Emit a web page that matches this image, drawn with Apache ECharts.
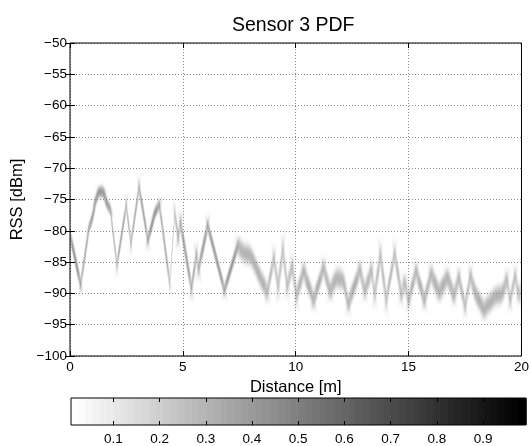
<!DOCTYPE html>
<html>
<head>
<meta charset="utf-8">
<script src="https://cdn.jsdelivr.net/npm/echarts@6/dist/echarts.min.js"></script>
<style>html,body{margin:0;padding:0;background:#fff}#c{width:532px;height:446px}</style>
</head>
<body>
<div id="c"></div>
<script>
// Mean RSS of the PDF band (ridge of the density)
const distance = [0.0,0.47,0.84,0.98,1.15,1.3,1.5,1.62,1.79,2.08,2.49,2.7,3.06,3.45,3.76,3.95,4.06,4.42,4.64,4.79,4.9,5.38,5.6,5.7,6.1,6.84,7.42,7.7,8.0,8.2,8.45,8.74,9.03,9.22,9.43,9.62,9.84,10.03,10.35,10.79,11.23,11.52,11.81,12.1,12.33,12.84,13.06,13.35,13.5,13.75,14.01,14.38,14.67,14.83,15.0,15.33,15.7,15.99,16.35,16.72,17.01,17.23,17.5,17.74,17.96,18.33,18.6,18.84,19.13,19.35,19.5,19.72,19.87,20.0];
const rss = [-80.5,-88.6,-79.6,-78.0,-75.0,-73.8,-74.0,-75.5,-76.7,-85.5,-75.9,-82.0,-73.0,-81.5,-77.2,-75.9,-78.5,-88.4,-77.2,-81.0,-78.8,-89.2,-83.9,-86.0,-79.1,-89.5,-82.5,-83.5,-84.0,-85.5,-87.6,-89.7,-84.4,-88.8,-83.0,-88.8,-85.7,-90.3,-86.5,-91.0,-86.0,-89.5,-87.6,-88.0,-91.6,-86.3,-89.5,-86.5,-90.0,-83.9,-91.0,-83.6,-90.0,-88.5,-91.0,-86.5,-91.0,-87.0,-89.7,-87.6,-90.2,-87.6,-92.0,-87.3,-90.0,-92.5,-91.5,-90.5,-90.0,-88.0,-91.0,-87.3,-90.0,-89.5];
// Visible half-height of the band (dB) and peak density, by distance zone
const zoneStart = [0, 4.0, 7.42];
const zoneSpread = [1.6, 1.9, 2.6];
const zonePeak = [0.5, 0.45, 0.32];
const xTicks = [0,5,10,15,20];
const yTicks = [-100,-95,-90,-85,-80,-75,-70,-65,-60,-55,-50];
const cbTicks = [0.1,0.2,0.3,0.4,0.5,0.6,0.7,0.8,0.9];
const cbMin = 0.0083, cbMax = 0.993, cbLevels = 64;

const FONT = 'Liberation Sans, Arial, Helvetica, sans-serif';
// cross-section profile of the band (style)
const bandProfile = [[0,0],[0.1,0.08],[0.2,0.3],[0.3,0.65],[0.4,0.92],[0.5,1],[0.6,0.92],[0.7,0.65],[0.8,0.3],[0.9,0.08],[1,0]];
const BLUR = 4, OFF = 2000, MIN_PERP = 3.0, MAX_STRETCH = 1.35; // soft 2-D blur: only the shadow of each piece is painted in place
const fmtNeg = v => (v < 0 ? '\u2212' + Math.abs(v) : String(v));
const grayOf = v => Math.round(255*(1 - v));

function zoneOf(x){ let z = 0; for (let k = 0; k < zoneStart.length; k++) if (x >= zoneStart[k]) z = k; return z; }

const segData = [];
for (let i = 0; i < distance.length - 1; i++) {
  const z = zoneOf(distance[i]);
  segData.push([distance[i], rss[i], distance[i+1], rss[i+1], zoneSpread[z], zonePeak[z]]);
}

const cbData = [];
for (let i = 0; i < cbLevels; i++) {
  const lo = cbMin + i*(cbMax-cbMin)/cbLevels, hi = cbMin + (i+1)*(cbMax-cbMin)/cbLevels;
  cbData.push([lo, hi, i/(cbLevels-1)]);
}

const gridLine = {show:true, lineStyle:{color:'#8a8a8a', width:1, type:[1,2]}};

const chart = echarts.init(document.getElementById('c'), null, {renderer:'canvas'});
chart.setOption({
  animation:false,
  backgroundColor:'#fff',
  title:{text:'Sensor 3 PDF', left:227, top:11, textStyle:{fontFamily:FONT, fontSize:19.5, fontWeight:'normal', color:'#000'}},
  grid:[
    {left:70, right:6, top:43, bottom:90, show:true, borderColor:'#000', borderWidth:1, backgroundColor:'transparent', z:1},
    {left:71, right:6, top:398, height:30, show:true, borderColor:'#000', borderWidth:1, backgroundColor:'transparent', z:1}
  ],
  xAxis:[
    {gridIndex:0, type:'value', min:0, max:20, interval:5, name:'Distance [m]', nameLocation:'middle', nameGap:17,
     nameTextStyle:{fontFamily:FONT, fontSize:16.5, color:'#000'},
     axisLine:{show:false}, axisTick:{show:true, inside:true, length:5, lineStyle:{color:'#000'}},
     axisLabel:{fontFamily:FONT, fontSize:13.5, color:'#000', margin:4}, splitLine:gridLine},
    {gridIndex:0, type:'value', min:0, max:20, interval:5, position:'top',
     axisLine:{show:false}, axisTick:{show:true, inside:true, length:5, lineStyle:{color:'#000'}},
     axisLabel:{show:false}, splitLine:{show:false}},
    {gridIndex:1, type:'value', min:cbMin, max:cbMax,
     axisLine:{show:false}, axisTick:{show:true, inside:true, length:4, customValues:cbTicks, lineStyle:{color:'#000'}},
     axisLabel:{fontFamily:FONT, fontSize:13.5, color:'#000', margin:7, customValues:cbTicks, formatter:v=>v.toFixed(1)},
     splitLine:{show:false}},
    {gridIndex:1, type:'value', min:cbMin, max:cbMax, position:'top',
     axisLine:{show:false}, axisTick:{show:true, inside:true, length:4, customValues:cbTicks, lineStyle:{color:'#000'}},
     axisLabel:{show:false}, splitLine:{show:false}}
  ],
  yAxis:[
    {gridIndex:0, type:'value', min:-100, max:-50, interval:5, name:'RSS [dBm]', nameLocation:'middle', nameGap:38,
     nameTextStyle:{fontFamily:FONT, fontSize:16.5, color:'#000'},
     axisLine:{show:false}, axisTick:{show:true, inside:true, length:5, lineStyle:{color:'#000'}},
     axisLabel:{fontFamily:FONT, fontSize:13.5, color:'#000', margin:3, formatter:fmtNeg}, splitLine:gridLine},
    {gridIndex:0, type:'value', min:-100, max:-50, interval:5, position:'right',
     axisLine:{show:false}, axisTick:{show:true, inside:true, length:5, lineStyle:{color:'#000'}},
     axisLabel:{show:false}, splitLine:{show:false}},
    {gridIndex:1, type:'value', min:0, max:1, show:false}
  ],
  series:[
    {type:'custom', xAxisIndex:0, yAxisIndex:0, data:segData, silent:true, z:-1, clip:true,
     encode:{x:[0,2], y:[1,3]},
     renderItem:(params, api)=>{
       const p0 = api.coord([api.value(0), api.value(1)]);
       const p1 = api.coord([api.value(2), api.value(3)]);
       const hv = Math.abs(api.coord([api.value(0), api.value(1) + api.value(4)])[1] - p0[1]);
       const peak = api.value(5);
       const s = (p1[1] - p0[1]) / (p1[0] - p0[0]);
       const L = Math.sqrt(1 + s*s);
       const hpx = Math.min(Math.max(hv, MIN_PERP * L), MAX_STRETCH * hv);
       const d = hpx / L;
       const n = [-s/L, 1/L];
       const m = [(p0[0]+p1[0])/2 - OFF, (p0[1]+p1[1])/2];
       const stops = bandProfile.map(([o,w]) => ({offset:o, color:'rgba(0,0,0,'+(peak*w).toFixed(4)+')'}));
       const a = p0[0] - OFF, b = p1[0] - OFF;
       return {type:'polygon',
         shape:{points:[[a, p0[1]-hpx],[b, p1[1]-hpx],[b, p1[1]+hpx],[a, p0[1]+hpx]]},
         style:{fill:{type:'linear', x:m[0]-n[0]*d, y:m[1]-n[1]*d, x2:m[0]+n[0]*d, y2:m[1]+n[1]*d, global:true, colorStops:stops},
                shadowBlur:BLUR, shadowColor:'rgba(0,0,0,1)', shadowOffsetX:OFF, shadowOffsetY:0}};
     }},
    {type:'custom', xAxisIndex:2, yAxisIndex:2, data:cbData, silent:true, z:-1,
     encode:{x:[0,1]},
     renderItem:(params, api)=>{
       const p0 = api.coord([api.value(0), 1]);
       const p1 = api.coord([api.value(1), 0]);
       const g = grayOf(api.value(2));
       return {type:'rect', shape:{x:p0[0], y:p0[1], width:p1[0]-p0[0]+0.6, height:p1[1]-p0[1]},
               style:{fill:'rgb('+g+','+g+','+g+')'}};
     }}
  ]
});
</script>
</body>
</html>
